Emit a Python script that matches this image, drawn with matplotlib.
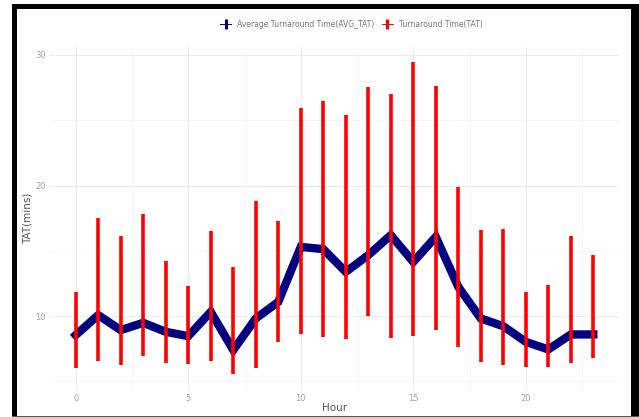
import numpy as np
import matplotlib
matplotlib.use("Agg")
from matplotlib import pyplot as plt
from matplotlib.lines import Line2D
from matplotlib.patches import Rectangle

# hourly turnaround times (minutes)
hours = list(range(24))
avg_tat = [8.55, 10.08, 8.93, 9.49, 8.8, 8.47, 10.33, 7.4, 9.82, 11.09, 15.3, 15.13,
           13.39, 14.67, 16.2, 14.15, 16.07, 12.24, 9.82, 9.23, 8.03, 7.45, 8.6, 8.6]
tat_min = [6.04, 6.58, 6.25, 6.96, 6.43, 6.33, 6.56, 5.54, 6.04, 8.04, 8.67, 8.37,
           8.24, 10.0, 8.32, 8.45, 8.93, 7.63, 6.5, 6.25, 6.1, 6.1, 6.43, 6.76]
tat_max = [11.86, 17.55, 16.14, 17.8, 14.23, 12.3, 16.5, 13.77, 18.78, 17.32, 25.97, 26.47,
           25.43, 27.57, 27.0, 29.43, 27.6, 19.9, 16.63, 16.66, 11.86, 12.42, 16.17, 14.67]

navy = "#000080"
red = "#ff0000"
grey_txt = "#a0a0a0"

fig = plt.figure(figsize=(6.39, 4.17), dpi=100)
ax = fig.add_axes([0.078, 0.0647, 0.891, 0.8233])

ax.plot(hours, avg_tat, color=navy, lw=6, solid_joinstyle="miter", zorder=2)
ax.vlines(hours, tat_min, tat_max, color=red, lw=2.6, zorder=3)

xs = np.array(hours)
lo, hi = min(tat_min), max(tat_max)
pad = (hi - lo) * 0.05
ax.set_ylim(lo - pad, hi + pad)
ax.set_xlim(xs.min() - 1.15, xs.max() + 1.15)

ax.set_xticks([0, 5, 10, 15, 20])
ax.set_xticks([2.5, 7.5, 12.5, 17.5, 22.5], minor=True)
ax.set_yticks([10, 20, 30])
ax.set_yticks([5, 15, 25], minor=True)
ax.grid(which="major", color="#ebebeb", lw=0.7)
ax.grid(which="minor", color="#f3f3f3", lw=0.5)
ax.set_axisbelow(True)
for s in ax.spines.values():
    s.set_visible(False)
ax.tick_params(which="both", length=0, labelsize=6, labelcolor=grey_txt, pad=3)

ax.set_xlabel("Hour", fontsize=7.5, color="#555555", labelpad=0)
ax.set_ylabel("TAT(mins)", fontsize=7.5, color="#555555", labelpad=2)

handles = [
    Line2D([], [], color=navy, lw=0.7, marker="|", markersize=7, markeredgewidth=2.2),
    Line2D([], [], color=red, lw=0.7, marker="|", markersize=7, markeredgewidth=2.2),
]
fig.legend(handles, ["Average Turnaround Time(AVG_TAT)", "Turnaround Time(TAT)"],
           loc="center", bbox_to_anchor=(0.55, 0.942), ncol=2, frameon=False,
           fontsize=5.5, labelcolor="#777777", handlelength=1.4, columnspacing=1.0,
           handletextpad=0.8)

# dark screenshot frame
W, H = 639, 417
frame = [(12, 0, 5, 413, "black"),       # left
         (12, 408, 627, 5, "black"),     # top
         (631, 0, 8, 413, "black"),      # right
         (12, 0, 627, 1.5, "#555555")]   # bottom
for x0, y0, w, h, c in frame:
    fig.add_artist(Rectangle((x0 / W, y0 / H), w / W, h / H, transform=fig.transFigure,
                             color=c, lw=0, zorder=10))

fig.savefig("out.png", dpi=100)
